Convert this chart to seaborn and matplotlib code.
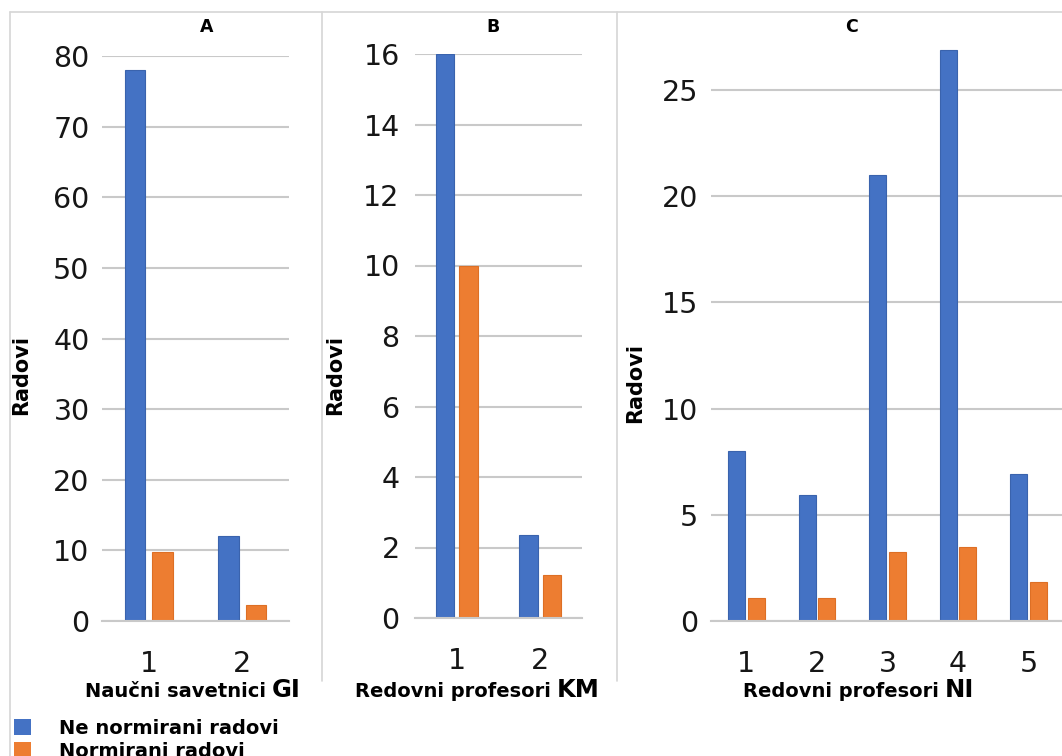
import numpy as np
import pandas as pd
import matplotlib.pyplot as plt
from matplotlib.lines import Line2D
import seaborn as sns

# values
series_names = ["Ne normirani radovi", "Normirani radovi"]

a_cats = ["1", "2"]
a_ne = [78, 12]
a_norm = [9.8, 2.3]

b_cats = ["1", "2"]
b_ne = [16, 2.35]
b_norm = [10, 1.22]

c_cats = ["1", "2", "3", "4", "5"]
c_ne = [8, 5.95, 21, 26.9, 6.9]
c_norm = [1.1, 1.1, 3.25, 3.48, 1.82]

a_ticks = [0, 10, 20, 30, 40, 50, 60, 70, 80]
b_ticks = [0, 2, 4, 6, 8, 10, 12, 14, 16]
c_ticks = [0, 5, 10, 15, 20, 25]

BLUE = "#4472C4"
ORANGE = "#ED7D31"
GRID = "#c9c9c9"
TXT = "#161616"

sns.set_style("white")
plt.rcParams["font.family"] = ["DejaVu Sans"]
plt.rcParams["text.color"] = "black"


def long_df(cats, ne, norm):
    return pd.DataFrame({
        "cat": cats * 2,
        "val": list(ne) + list(norm),
        "series": [series_names[0]] * len(cats) + [series_names[1]] * len(cats),
    })


fig = plt.figure(figsize=(10.62, 7.56), dpi=100)
W, H = 1062, 756


def px_axes(x0, x1, ytop, ybot):
    return fig.add_axes([x0 / W, (H - ybot) / H, (x1 - x0) / W, (ybot - ytop) / H])


ax_a = px_axes(102, 289, 56, 621)
ax_b = px_axes(415, 582, 54, 618)
ax_c = px_axes(711, 1064, 40, 621)

panels = [
    (ax_a, a_cats, a_ne, a_norm, a_ticks, (0, 80), 0.59, 0.26, 9, (-0.38, 0.435)),
    (ax_b, b_cats, b_ne, b_norm, b_ticks, (0, 16), 0.56, 0.21, 11, (-0.42, 0.43)),
    (ax_c, c_cats, c_ne, c_norm, c_ticks, (0, 27.35), 0.56, 0.14, 9, (-0.187, 0.41)),
]

for ax, cats, ne, norm, ticks, ylim, width, gap, ypad, lab_pos in panels:
    df = long_df(cats, ne, norm)
    sns.barplot(data=df, x="cat", y="val", hue="series", order=cats,
                hue_order=series_names, palette=[BLUE, ORANGE],
                width=width, gap=gap, edgecolor=None, linewidth=0,
                saturation=1, ax=ax)
    for patch, ec in zip(ax.patches, [BLUE] * len(cats) + [ORANGE] * len(cats)):
        patch.set_edgecolor("#3a63ad" if ec == BLUE else "#dd6f25")
        patch.set_linewidth(0.8)
    ax.set_xlim(-0.5, len(cats) - 0.5)
    ax.set_ylim(*ylim)
    ax.set_yticks(ticks)
    ax.yaxis.grid(True, color=GRID, linewidth=1.5)
    ax.set_axisbelow(True)
    for s in ["top", "right", "left"]:
        ax.spines[s].set_visible(False)
    ax.spines["bottom"].set_color(GRID)
    ax.spines["bottom"].set_linewidth(1.5)
    ax.tick_params(axis="y", length=0, pad=ypad, labelsize=20.5, labelcolor=TXT)
    ax.tick_params(axis="x", length=0, pad=21, labelsize=20.5, labelcolor=TXT)
    ax.set_xlabel("")
    ax.set_ylabel("Radovi", fontsize=15, fontweight="bold", color="black")
    ax.yaxis.set_label_coords(*lab_pos)
    ax.get_legend().remove()

# legend built from panel A handles
handles, labels = ax_a.get_legend_handles_labels()
fig.legend(handles, labels, loc="upper left", bbox_to_anchor=(6 / W, (H - 711) / H),
           frameon=False, prop={"weight": "bold", "size": 14},
           handlelength=0.9, handleheight=0.9, handletextpad=1.45,
           labelspacing=0.2, borderaxespad=0, labelcolor="black")

# panel titles
for letter, x in [("A", 207), ("B", 493), ("C", 852)]:
    fig.text(x / W, (H - 27) / H, letter, ha="center", va="center",
             fontsize=12.5, fontweight="bold", color="black")

# x-axis titles, last word set larger
for first, second, split in [("Naučni savetnici", "GI", 269),
                             ("Redovni profesori", "KM", 554),
                             ("Redovni profesori", "NI", 942)]:
    fig.text((split - 3) / W, (H - 697) / H, first, ha="right", va="baseline",
             fontsize=14, fontweight="bold", color="black")
    fig.text((split + 3) / W, (H - 697) / H, second, ha="left", va="baseline",
             fontsize=17.5, fontweight="bold", color="black")

# panel frame lines
frame_col = "#d6d6d6"
fig.add_artist(Line2D([10 / W, 1], [(H - 12) / H] * 2, color=frame_col, lw=1.2))
fig.add_artist(Line2D([10 / W] * 2, [0, (H - 12) / H], color=frame_col, lw=1.2))
for xs in [322, 617]:
    fig.add_artist(Line2D([xs / W] * 2, [(H - 681) / H, (H - 12) / H],
                          color=frame_col, lw=1.2))

fig.savefig("out.png", dpi=100)
